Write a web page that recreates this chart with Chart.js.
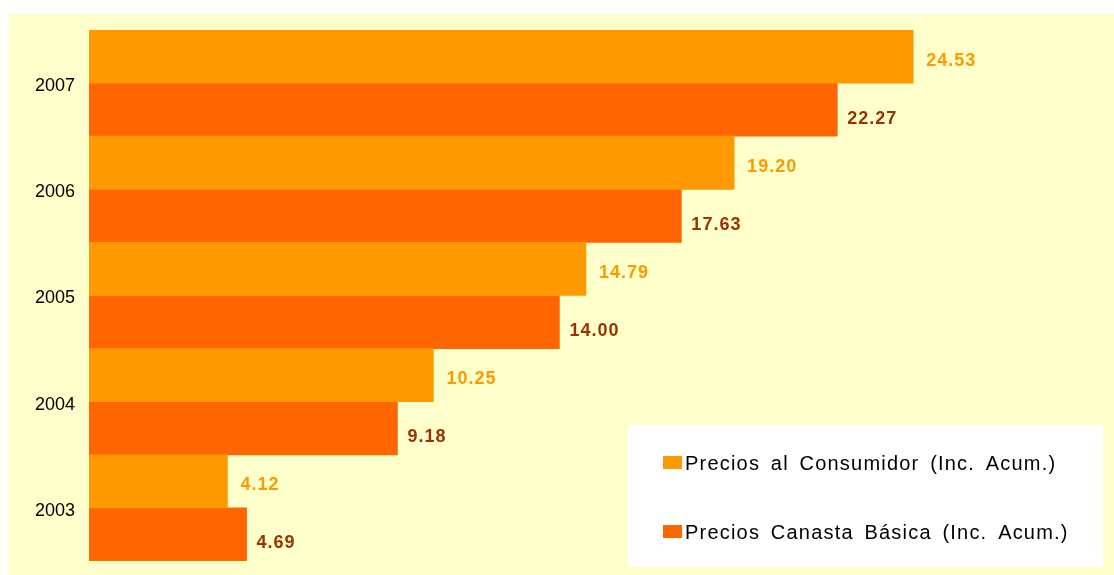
<!DOCTYPE html>
<html>
<head>
<meta charset="utf-8">
<script src="https://cdn.jsdelivr.net/npm/chart.js@4.4.0/dist/chart.umd.min.js"></script>
<style>
  html, body { margin: 0; padding: 0; background: #ffffff; }
  #wrap { width: 1114px; height: 575px; position: relative; }
</style>
</head>
<body>
<div id="wrap"><canvas id="grafico" width="1114" height="575"></canvas></div>
<script>
// datos
var anios = ["2007", "2006", "2005", "2004", "2003"];
var preciosConsumidor = [24.53, 19.20, 14.79, 10.25, 4.12];
var preciosCanasta = [22.27, 17.63, 14.00, 9.18, 4.69];
var nombresSeries = ["Precios al Consumidor (Inc. Acum.)", "Precios Canasta Básica (Inc. Acum.)"];
var coloresBarras = ["#FF9900", "#FF6600"];
var coloresEtiquetas = ["#FF9900", "#993300"];
var maxEje = 30;

/* fondo amarillo */
var fondoPlugin = {
  id: "fondo",
  beforeDraw: function (chart) {
    var c = chart.ctx;
    c.save();
    c.fillStyle = "#FFFFCC";
    c.fillRect(9, 14, chart.width - 9, chart.height - 14);
    c.restore();
  }
};

/* etiquetas de valor */
var etiquetasPlugin = {
  id: "etiquetas",
  afterDatasetsDraw: function (chart) {
    var c = chart.ctx;
    var dx = [13, 10], dy = [4, 9];
    c.save();
    c.font = "bold 18px 'Liberation Sans', Arial, sans-serif";
    c.letterSpacing = "1px";
    c.textBaseline = "middle";
    c.textAlign = "left";
    chart.data.datasets.forEach(function (ds, i) {
      var meta = chart.getDatasetMeta(i);
      c.fillStyle = coloresEtiquetas[i];
      meta.data.forEach(function (bar, j) {
        c.fillText(ds.data[j].toFixed(2), bar.x + dx[i], bar.y + dy[i]);
      });
    });
    c.restore();
  }
};

/* leyenda dentro del area */
var leyendaPlugin = {
  id: "leyenda",
  afterDraw: function (chart) {
    var c = chart.ctx;
    c.save();
    c.fillStyle = "#FFFFFF";
    c.fillRect(628, 425, 475, 142);
    c.font = "20px 'Liberation Sans', Arial, sans-serif";
    c.letterSpacing = "1.2px";
    c.wordSpacing = "4px";
    c.textBaseline = "middle";
    var filas = [463, 532];
    chart.data.datasets.forEach(function (ds, i) {
      c.fillStyle = ds.backgroundColor;
      c.fillRect(663, filas[i] - 7, 19, 13);
      c.fillStyle = "#000000";
      c.fillText(ds.label, 685, filas[i] + 1);
    });
    c.restore();
  }
};

var ctx = document.getElementById("grafico");
var grafico = new Chart(ctx, {
  type: "bar",
  data: {
    labels: anios,
    datasets: [{
      label: nombresSeries[0],
      data: preciosConsumidor,
      backgroundColor: coloresBarras[0],
      borderWidth: 0
    }, {
      label: nombresSeries[1],
      data: preciosCanasta,
      backgroundColor: coloresBarras[1],
      borderWidth: 0
    }]
  },
  options: {
    indexAxis: "y",
    responsive: false,
    animation: false,
    devicePixelRatio: 1,
    layout: { padding: { left: 9, top: 30, right: 17, bottom: 14 } },
    datasets: { bar: { categoryPercentage: 1, barPercentage: 1 } },
    plugins: {
      legend: { display: false },
      tooltip: { enabled: false }
    },
    scales: {
      x: { display: false, min: 0, max: maxEje },
      y: {
        grid: { display: false, drawTicks: false },
        border: { display: false },
        ticks: {
          color: "#000000",
          padding: 14,
          labelOffset: 3,
          autoSkip: false,
          font: { family: "'Liberation Sans', Arial, sans-serif", size: 18 }
        },
        afterFit: function (scale) {
          scale.width = 80;
          scale.paddingTop = 0;
          scale.paddingBottom = 0;
        }
      }
    }
  },
  plugins: [fondoPlugin, etiquetasPlugin, leyendaPlugin]
});
</script>
</body>
</html>
